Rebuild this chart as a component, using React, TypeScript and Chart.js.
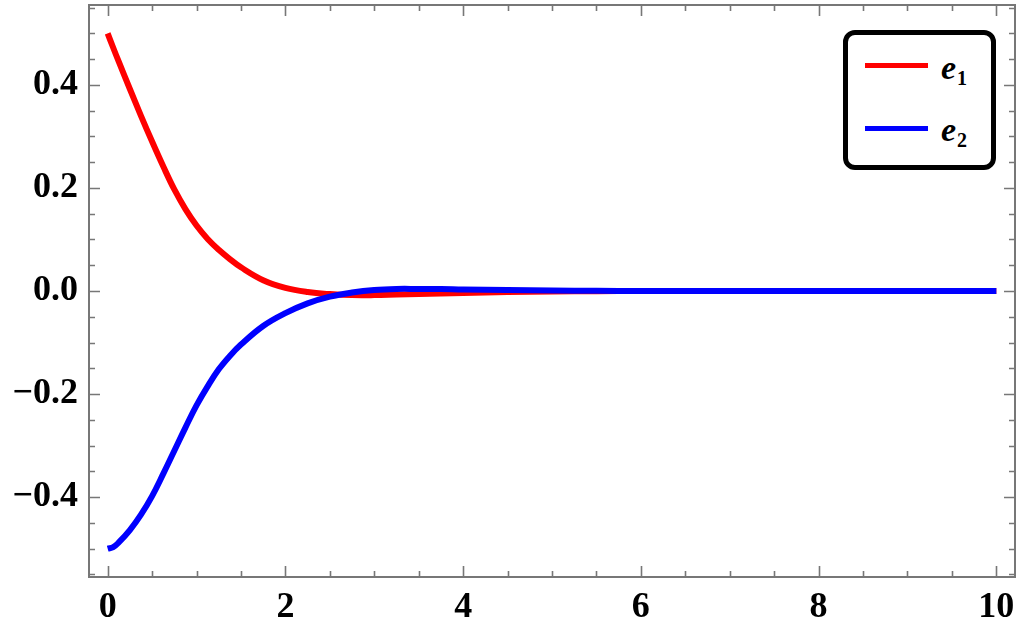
import React, { useEffect, useRef } from "react";
import { Chart, registerables } from "chart.js";

Chart.register(...registerables);

// ---- data ----
const tValues = [0, 0.0625, 0.125, 0.25, 0.375, 0.5, 0.625, 0.75, 0.875, 1, 1.125, 1.25, 1.375, 1.5, 1.75, 2, 2.25, 2.5, 2.75, 3, 3.25, 3.5, 3.75, 4, 4.5, 5, 5.5, 6, 7, 8, 9, 10];
const e1Values = [0.5, 0.472, 0.445, 0.392, 0.34, 0.29, 0.242, 0.197, 0.159, 0.127, 0.101, 0.08, 0.062, 0.046, 0.021, 0.006, -0.002, -0.006, -0.008, -0.008, -0.007, -0.006, -0.005, -0.004, -0.002, -0.001, -0.0005, 0, 0, 0, 0, 0];
const e2Values = [-0.5, -0.497, -0.488, -0.464, -0.434, -0.398, -0.355, -0.31, -0.265, -0.222, -0.185, -0.152, -0.126, -0.104, -0.068, -0.043, -0.024, -0.011, -0.003, 0.002, 0.004, 0.004, 0.004, 0.003, 0.002, 0.001, 0.0005, 0, 0, 0, 0, 0];
const seriesBase = ["e", "e"];
const seriesSub = ["1", "2"];
const seriesColors = ["#ff0000", "#0000ff"];
const xTickLabels = [0, 2, 4, 6, 8, 10];
const yTickLabels = [-0.4, -0.2, 0, 0.2, 0.4];

const AXIS_COLOR = "#777777";

const framePlugin = {
  id: "mmaFrame",
  beforeDatasetsDraw(chart: any) {
    const { ctx, chartArea: a, scales } = chart;
    const xs = scales.x;
    const ys = scales.y;
    const major = 11;
    const minor = 6;
    ctx.save();
    ctx.strokeStyle = AXIS_COLOR;
    ctx.lineWidth = 1.6;
    ctx.beginPath();
    for (let i = 0; i <= 20; i++) {
      const v = i * 0.5;
      const px = Math.round(xs.getPixelForValue(v)) + 0.5;
      const len = xTickLabels.includes(v) ? major : minor;
      ctx.moveTo(px, a.bottom);
      ctx.lineTo(px, a.bottom - len);
      ctx.moveTo(px, a.top);
      ctx.lineTo(px, a.top + len);
    }
    for (let i = -11; i <= 11; i++) {
      const v = i * 0.05;
      const py = Math.round(ys.getPixelForValue(v)) + 0.5;
      const isMajor = i % 4 === 0;
      const len = isMajor ? major : minor;
      ctx.moveTo(a.left, py);
      ctx.lineTo(a.left + len, py);
      ctx.moveTo(a.right, py);
      ctx.lineTo(a.right - len, py);
    }
    ctx.stroke();
    ctx.lineWidth = 2;
    ctx.strokeRect(a.left, a.top, a.right - a.left, a.bottom - a.top);
    ctx.restore();
  },
};

const tickFont = { family: '"Liberation Serif", "Times New Roman", serif', size: 36, weight: "bold" as const };

function fmtY(v: number): string {
  if (Math.abs(v) < 1e-9) return "0.0";
  return (v < 0 ? "\u2212" : "") + Math.abs(v).toFixed(1);
}

export default function App() {
  const canvasRef = useRef<HTMLCanvasElement | null>(null);

  useEffect(() => {
    if (!canvasRef.current) return;
    const series = [e1Values, e2Values];
    const chart = new Chart(canvasRef.current, {
      type: "scatter",
      data: {
        datasets: series.map((vals, si) => ({
          label: seriesBase[si] + seriesSub[si],
          data: tValues.map((t, i) => ({ x: t, y: vals[i] })),
          borderColor: seriesColors[si],
          backgroundColor: seriesColors[si],
          borderWidth: 6,
          showLine: true,
          pointRadius: 0,
          tension: 0.4,
          borderCapStyle: "butt" as const,
          borderJoinStyle: "round" as const,
          order: si === 0 ? 1 : 0,
        })),
      },
      options: {
        responsive: false,
        animation: false,
        layout: { padding: { left: 0, right: 9, top: 5, bottom: 0 } },
        plugins: { legend: { display: false }, tooltip: { enabled: false } },
        scales: {
          x: {
            type: "linear",
            min: -0.21,
            max: 10.21,
            grid: { display: false, drawTicks: false },
            border: { display: false },
            afterBuildTicks: (s: any) => {
              s.ticks = xTickLabels.map((v) => ({ value: v }));
            },
            afterFit: (s: any) => {
              s.height = 50;
              s.paddingLeft = 0;
              s.paddingRight = 0;
              s.paddingTop = 0;
              s.paddingBottom = 0;
            },
            ticks: {
              font: tickFont,
              color: "#000",
              padding: 9,
              autoSkip: false,
              maxRotation: 0,
              callback: (v: any) => String(v),
            },
          },
          y: {
            type: "linear",
            min: -0.555,
            max: 0.555,
            grid: { display: false, drawTicks: false },
            border: { display: false },
            afterBuildTicks: (s: any) => {
              s.ticks = yTickLabels.map((v) => ({ value: v }));
            },
            afterFit: (s: any) => {
              s.width = 89;
              s.paddingLeft = 0;
              s.paddingRight = 0;
              s.paddingTop = 0;
              s.paddingBottom = 0;
            },
            ticks: {
              font: tickFont,
              color: "#000",
              padding: 11,
              autoSkip: false,
              callback: (v: any) => fmtY(Number(v)),
            },
          },
        },
      },
      plugins: [framePlugin],
    });
    return () => chart.destroy();
  }, []);

  const legendRows = [0, 1];
  return (
    <div style={{ position: "fixed", left: 0, top: 0, width: 1024, height: 627, background: "#fff" }}>
      <canvas ref={canvasRef} width={1024} height={627} style={{ display: "block", width: 1024, height: 627 }} />
      <div
        style={{
          position: "absolute",
          left: 843,
          top: 30,
          width: 153,
          height: 140,
          boxSizing: "border-box",
          border: "5px solid #000",
          borderRadius: 12,
          background: "#fff",
        }}
      >
        {legendRows.map((i) => (
          <React.Fragment key={i}>
            <div
              style={{
                position: "absolute",
                left: 17,
                top: (i === 0 ? 65 : 128) - 35 - 2.5,
                width: 63,
                height: 5,
                background: seriesColors[i],
              }}
            />
            <div
              style={{
                position: "absolute",
                left: 93,
                top: (i === 0 ? 80 : 142) - 35 - 29,
                fontFamily: '"Liberation Serif", "Times New Roman", serif',
                fontSize: 34,
                lineHeight: "34px",
                fontWeight: "bold",
                whiteSpace: "nowrap",
                color: "#000",
              }}
            >
              <span style={{ fontStyle: "italic" }}>{seriesBase[i]}</span>
              <span style={{ fontSize: 20, position: "relative", top: 6, marginLeft: 1 }}>{seriesSub[i]}</span>
            </div>
          </React.Fragment>
        ))}
      </div>
    </div>
  );
}
